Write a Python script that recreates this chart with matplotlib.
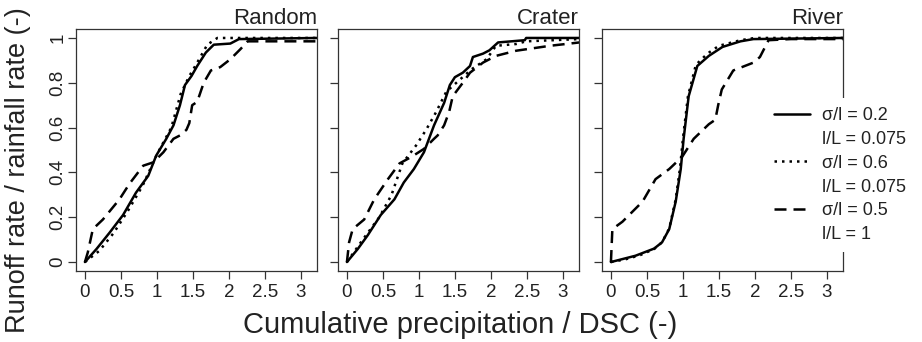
import matplotlib
matplotlib.use("Agg")
import matplotlib.pyplot as plt
from matplotlib.lines import Line2D

plt.rcParams['font.family'] = ['Liberation Sans', 'DejaVu Sans']

# ---- data: runoff ratio vs cumulative precipitation / DSC ----
panel_titles = ["Random", "Crater", "River"]
x_ticks = [0, 0.5, 1, 1.5, 2, 2.5, 3]
x_tick_labels = ["0", "0.5", "1", "1.5", "2", "2.5", "3"]
y_ticks = [0, 0.2, 0.4, 0.6, 0.8, 1.0]
y_tick_labels = ["0", "0.2", "0.4", "0.6", "0.8", "1"]

series_labels = [("σ/l = 0.2", "l/L = 0.075"),
                 ("σ/l = 0.6", "l/L = 0.075"),
                 ("σ/l = 0.5", "l/L = 1")]

# Random
random_a_x = [0, 0.16, 0.34, 0.53, 0.71, 0.88, 0.99, 1.13, 1.23, 1.32, 1.39, 1.48, 1.56, 1.68, 1.79, 2.02, 2.14, 3.23]
random_a_y = [0, 0.058, 0.13, 0.21, 0.31, 0.385, 0.475, 0.55, 0.61, 0.70, 0.79, 0.83, 0.875, 0.935, 0.97, 0.975, 0.995, 1.0]
random_b_x = [0, 0.2, 0.4, 0.6, 0.8, 1.0, 1.2, 1.33, 1.45, 1.56, 1.70, 1.84, 2.2, 3.23]
random_b_y = [0, 0.05, 0.13, 0.23, 0.34, 0.48, 0.60, 0.75, 0.83, 0.89, 0.97, 1.0, 1.0, 1.0]
random_c_x = [0, 0.04, 0.11, 0.25, 0.48, 0.62, 0.81, 0.95, 1.09, 1.23, 1.32, 1.41, 1.45, 1.49, 1.56, 1.65, 1.75, 1.88, 2.02, 2.16, 2.26, 3.23]
random_c_y = [0, 0.043, 0.147, 0.19, 0.28, 0.35, 0.43, 0.445, 0.49, 0.55, 0.565, 0.59, 0.62, 0.70, 0.715, 0.80, 0.855, 0.87, 0.905, 0.95, 0.985, 0.985]

# Crater
crater_a_x = [0, 0.15, 0.29, 0.47, 0.66, 0.79, 0.93, 1.07, 1.21, 1.35, 1.43, 1.50, 1.61, 1.71, 1.75, 1.89, 1.98, 2.10, 2.47, 2.49, 3.23]
crater_a_y = [0, 0.058, 0.12, 0.21, 0.28, 0.355, 0.415, 0.49, 0.61, 0.71, 0.79, 0.825, 0.845, 0.875, 0.915, 0.93, 0.945, 0.98, 0.99, 1.0, 1.0]
crater_b_x = [0, 0.22, 0.45, 0.62, 0.77, 0.96, 1.10, 1.24, 1.38, 1.52, 1.73, 1.94, 2.07, 2.35, 2.49, 3.23]
crater_b_y = [0, 0.10, 0.20, 0.30, 0.44, 0.52, 0.59, 0.67, 0.76, 0.80, 0.86, 0.905, 0.965, 0.973, 0.985, 0.995]
crater_c_x = [0, 0.03, 0.08, 0.24, 0.38, 0.57, 0.73, 0.90, 1.07, 1.21, 1.26, 1.35, 1.42, 1.47, 1.61, 1.71, 1.89, 2.07, 2.35, 2.82, 3.23]
crater_c_y = [0, 0.088, 0.147, 0.19, 0.28, 0.37, 0.44, 0.47, 0.505, 0.55, 0.565, 0.61, 0.67, 0.74, 0.80, 0.845, 0.89, 0.92, 0.943, 0.965, 0.98]

# River
river_a_x = [0, 0.34, 0.6, 0.71, 0.81, 0.90, 0.97, 1.01, 1.08, 1.20, 1.36, 1.55, 1.80, 1.98, 3.23]
river_a_y = [0, 0.028, 0.06, 0.088, 0.147, 0.27, 0.415, 0.55, 0.74, 0.875, 0.92, 0.96, 0.985, 0.995, 1.0]
river_b_x = [0, 0.2, 0.4, 0.6, 0.71, 0.81, 0.90, 0.96, 1.0, 1.07, 1.18, 1.34, 1.5, 1.8, 2.0, 3.23]
river_b_y = [0, 0.012, 0.03, 0.058, 0.088, 0.15, 0.28, 0.42, 0.55, 0.74, 0.88, 0.93, 0.965, 0.99, 1.0, 1.0]
river_c_x = [0, 0.02, 0.16, 0.44, 0.62, 0.81, 0.99, 1.15, 1.36, 1.45, 1.49, 1.54, 1.70, 1.98, 2.07, 2.19, 2.5, 3.23]
river_c_y = [0, 0.147, 0.18, 0.27, 0.37, 0.415, 0.47, 0.55, 0.615, 0.635, 0.70, 0.77, 0.855, 0.89, 0.915, 0.99, 0.995, 0.995]

panels = [
    [(random_a_x, random_a_y), (random_b_x, random_b_y), (random_c_x, random_c_y)],
    [(crater_a_x, crater_a_y), (crater_b_x, crater_b_y), (crater_c_x, crater_c_y)],
    [(river_a_x, river_a_y), (river_b_x, river_b_y), (river_c_x, river_c_y)],
]

# ---- styling ----
W, H = 922, 342
LW = 1.8
line_styles = [
    dict(linestyle='-', solid_capstyle='round', solid_joinstyle='round'),
    dict(linestyle=(0, (1.0, 2.0)), dash_capstyle='butt'),
    dict(linestyle=(0, (4.8, 2.8)), dash_capstyle='butt'),
]
spine_color = '#333333'

fig = plt.figure(figsize=(W / 100, H / 100), dpi=100)
fig.patch.set_facecolor('white')

ax_lefts = [76, 338, 602]
ax_w, ax_top, ax_bot = 241, 29, 271

axes = []
for i, (left, title, series) in enumerate(zip(ax_lefts, panel_titles, panels)):
    ax = fig.add_axes([left / W, 1 - ax_bot / H, ax_w / W, (ax_bot - ax_top) / H])
    for (xs, ys), st in zip(series, line_styles):
        ax.plot(xs, ys, color='black', lw=LW, **st)
    ax.set_xlim(-0.124, 3.224)
    ax.set_ylim(-0.04, 1.04)
    ax.set_xticks(x_ticks)
    ax.set_xticklabels(x_tick_labels)
    ax.set_yticks(y_ticks)
    if i == 0:
        ax.set_yticklabels(y_tick_labels, rotation=90, va='center', ha='right')
    else:
        ax.set_yticklabels([])
    ax.tick_params(axis='both', direction='out', length=5.5, width=0.9,
                   color=spine_color, labelsize=13.5, labelcolor='#222222')
    ax.tick_params(axis='x', pad=4)
    ax.tick_params(axis='y', pad=1.5)
    for sp in ax.spines.values():
        sp.set_linewidth(0.9)
        sp.set_color(spine_color)
    ax.set_title(title, loc='right', fontsize=16, pad=3, color='#222222')
    axes.append(ax)

# legend: each series takes two text rows, the line sample on the first
handles, labels = [], []
for st, (l1, l2) in zip(line_styles, series_labels):
    handles.append(Line2D([], [], color='black', lw=LW, **st))
    labels.append(l1)
    handles.append(Line2D([], [], color='none'))
    labels.append(l2)
leg = axes[2].legend(handles, labels, loc='upper left',
                     bbox_to_anchor=(765 / W, 1 - 98 / H),
                     bbox_transform=fig.transFigure,
                     fontsize=13, handlelength=2.0, handletextpad=0.65,
                     labelspacing=0.38, borderpad=0.5, borderaxespad=0,
                     frameon=True, fancybox=False, framealpha=1,
                     facecolor='white', edgecolor='none')
for t in leg.get_texts():
    t.set_color('#222222')

fig.text(460 / W, 1 - 333 / H, "Cumulative precipitation / DSC (-)",
         ha='center', va='baseline', fontsize=21, color='#222222')
fig.text(25 / W, 1 - 170 / H, "Runoff rate / rainfall rate (-)",
         rotation=90, rotation_mode='anchor', ha='center', va='baseline',
         fontsize=19.5, color='#222222')

fig.savefig('out.png', dpi=100, facecolor='white')
